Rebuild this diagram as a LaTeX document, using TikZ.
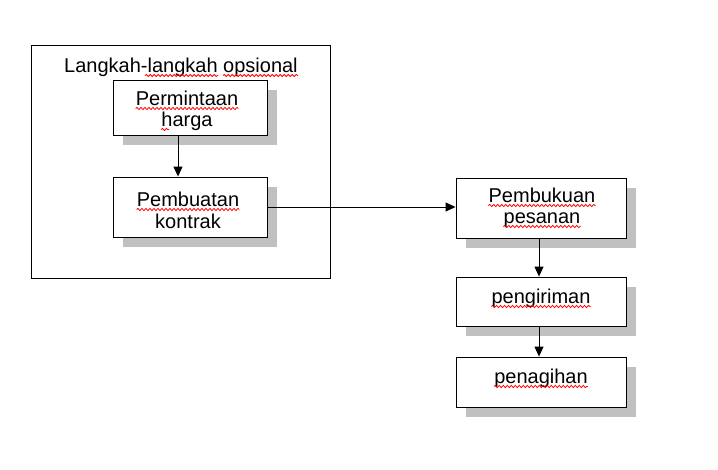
\documentclass[tikz,border=0pt]{standalone}
\usepackage{fontspec}
\setmainfont{Liberation Sans}
\usetikzlibrary{calc,decorations.pathmorphing,arrows.meta,shadows}
\definecolor{shadowgray}{HTML}{C0C0C0}
\begin{document}
\begin{tikzpicture}[x=1pt,y=-1pt,
  every node/.style={font=\fontsize{20}{22}\selectfont},
  frame/.style={draw, line width=0.9pt, inner sep=0pt},
  box/.style={draw, fill=white, line width=0.9pt, inner sep=0pt,
    drop shadow={shadow xshift=10pt, shadow yshift=-10pt, fill=shadowgray, opacity=1}},
  word/.style={inner sep=0pt, anchor=base},
  arr/.style={line width=0.9pt, -{Triangle[length=10pt,width=9pt]}},
  squig/.style={red, line width=0.8pt, decorate, decoration={snake, amplitude=1.1pt, segment length=4pt}}]
\useasboundingbox (0,0) rectangle (718,469);
\fill[white] (0,0) rectangle (718,469);

% outer frame
\node[frame, minimum width=299pt, minimum height=233pt] (outer) at (180.5,161.5) {};
\node[word] (title) at (181,72) {Langkah-langkah opsional};

% boxes
\node[box, minimum width=154pt, minimum height=55pt] (b1) at (190,107.5) {};
\node[box, minimum width=154pt, minimum height=60pt] (b2) at (190,207) {};
\node[box, minimum width=170pt, minimum height=60pt] (b3) at (541,208) {};
\node[box, minimum width=170pt, minimum height=49pt] (b4) at (541,301.5) {};
\node[box, minimum width=170pt, minimum height=50pt] (b5) at (541,382) {};

% texts
\node[word] (t1a) at (187,105) {Permintaan};
\node[word] (t1b) at (187,126) {harga};
\node[word] (t2a) at (188,206) {Pembuatan};
\node[word] (t2b) at (188,228) {kontrak};
\node[word] (t3a) at (542,202) {Pembukuan};
\node[word] (t3b) at (542,223) {pesanan};
\node[word] (t4) at (541,303) {pengiriman};
\node[word] (t5) at (541,383) {penagihan};

% spell-check underlines
\draw[squig] (145,75.5) -- (218,75.5);
\draw[squig] (223,75.5) -- (298,75.5);
\foreach \w in {t1a,t2a,t3a,t3b,t4,t5}{
  \draw[squig] ($(\w.base west)+(0,3.5)$) -- ($(\w.base east)+(0,3.5)$);
}
\draw[squig] ($(t1b.base west)+(0,3.5)$) -- ($(t1b.base west)+(8,3.5)$);

% connectors
\coordinate (ax) at (178,0);
\coordinate (bx) at (539,0);
\draw[arr] (b1.south -| ax) -- (b2.north -| ax);
\draw[arr] (b2.east) -- (b2.east -| b3.west);
\draw[arr] (b3.south -| bx) -- (b4.north -| bx);
\draw[arr] (b4.south -| bx) -- (b5.north -| bx);
\end{tikzpicture}
\end{document}
